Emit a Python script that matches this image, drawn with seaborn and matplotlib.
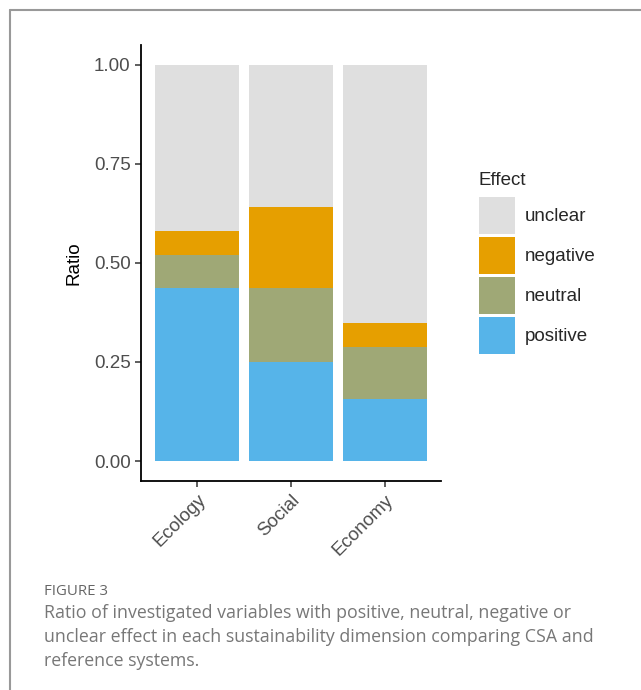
import matplotlib
matplotlib.use("Agg")
import matplotlib.pyplot as plt
import matplotlib.patches as mpatches
import matplotlib.lines as mlines
import numpy as np
import pandas as pd
import seaborn as sns

# data
dimensions = ["Ecology", "Social", "Economy"]
positive = [0.4375, 0.25, 0.156]
neutral = [0.083, 0.1875, 0.131]
negative = [0.0605, 0.2025, 0.061]
unclear = [1 - p - n - g for p, n, g in zip(positive, neutral, negative)]
effects = ["unclear", "negative", "neutral", "positive"]
colors = {"unclear": "#DFDFDF", "negative": "#E69F00",
          "neutral": "#9FA876", "positive": "#56B4E9"}

sns.set_theme(style="ticks")
plt.rcParams["font.family"] = ["Liberation Sans", "DejaVu Sans"]

fig = plt.figure(figsize=(6.41, 6.90), dpi=100)
ax = fig.add_axes([0.22, 0.303, 0.468, 0.632])

# stacked bars: draw cumulative totals from the top down
layers = {"positive": positive, "neutral": neutral,
          "negative": negative, "unclear": unclear}
order = ["positive", "neutral", "negative", "unclear"]
cum = np.cumsum([layers[k] for k in order], axis=0)
for i in range(len(order) - 1, -1, -1):
    df = pd.DataFrame({"dim": dimensions, "val": cum[i]})
    sns.barplot(data=df, x="dim", y="val", color=colors[order[i]],
                width=0.9, linewidth=0, saturation=1, ax=ax)

ax.set_xlim(-0.6, 2.6)
ax.set_ylim(-0.05, 1.05)
ax.set_yticks([0, 0.25, 0.5, 0.75, 1.0])
ax.set_yticklabels(["0.00", "0.25", "0.50", "0.75", "1.00"])
ax.set_xlabel("")
ax.set_ylabel("Ratio", fontsize=13.5, color="black", labelpad=8)
for s in ["top", "right"]:
    ax.spines[s].set_visible(False)
for s in ["left", "bottom"]:
    ax.spines[s].set_color("black")
    ax.spines[s].set_linewidth(1.3)
ax.tick_params(axis="both", colors="#333333", labelsize=13.5, length=4,
               width=1.1, labelcolor="#4D4D4D")
plt.setp(ax.get_xticklabels(), rotation=45, ha="right", rotation_mode="anchor")

handles = [mpatches.Patch(facecolor=colors[e], edgecolor="none", label=e)
           for e in effects]
leg = fig.legend(handles=handles, title="Effect", loc="upper left",
                 bbox_to_anchor=(0.732, 0.765), frameon=False, fontsize=13.5,
                 title_fontsize=13.5, handlelength=1.92, handleheight=2.66,
                 labelspacing=0.16, handletextpad=0.55, borderpad=0)
leg._legend_box.align = "left"
leg._legend_box.sep = 6

# caption
fig.text(0.069, 0.143, "FIGURE 3", fontsize=10.8, color="#666666", va="center",
         family=["Open Sans", "DejaVu Sans"])
fig.text(0.069, 0.124,
         "Ratio of investigated variables with positive, neutral, negative or\n"
         "unclear effect in each sustainability dimension comparing CSA and\n"
         "reference systems.",
         fontsize=12.8, color="#777777", linespacing=1.4, va="top",
         family=["Open Sans", "DejaVu Sans"])

# frame lines (top and left)
fig.add_artist(mlines.Line2D([0.0156, 1.0], [0.9855, 0.9855], color="#999999",
                             lw=1.5, transform=fig.transFigure))
fig.add_artist(mlines.Line2D([0.0156, 0.0156], [0.0, 0.9855], color="#999999",
                             lw=1.5, transform=fig.transFigure))

fig.savefig("out.png", dpi=100)
